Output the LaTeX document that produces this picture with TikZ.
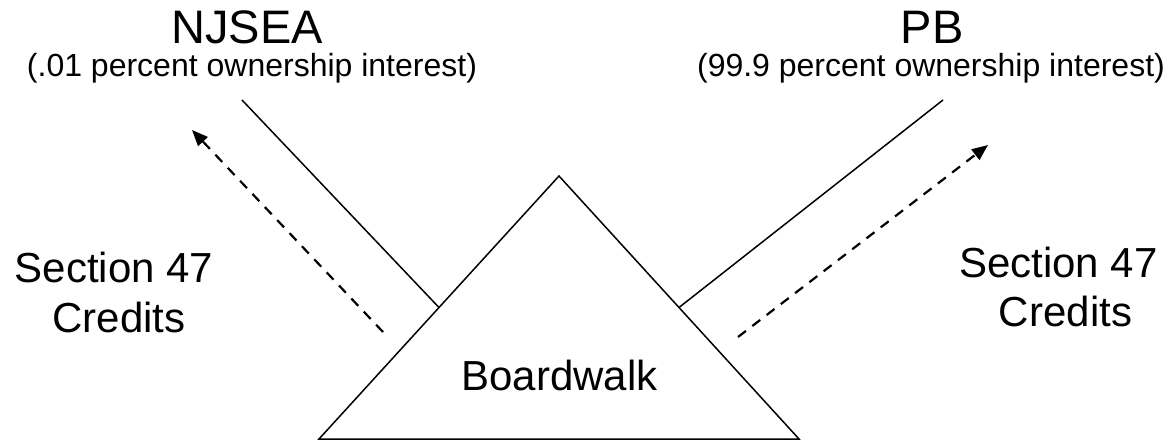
\documentclass[tikz,border=0pt]{standalone}
\usepackage{fontspec}
\setmainfont{Liberation Sans}
\usetikzlibrary{arrows.meta,calc}

\tikzset{
  party/.style={inner sep=0pt, anchor=base, font=\fontsize{47}{56}\selectfont},
  share/.style={inner sep=0pt, anchor=base, font=\fontsize{32}{38}\selectfont},
  label/.style={inner sep=0pt, anchor=base, font=\fontsize{42}{50}\selectfont},
  owner/.style={line width=1.5pt},
  credit/.style={line width=2.2pt, dash pattern=on 10pt off 8pt,
    -{Triangle[length=16pt,width=13pt]}},
  entity/.style={line width=1.5pt, line join=miter}
}

\begin{document}
\begin{tikzpicture}[x=1pt, y=-1pt]
  \useasboundingbox (0,0) rectangle (1168,441);

  % owners and their shares
  \node[party] (njsea) at (247,44) {NJSEA};
  \node[share] (njseashare) at (252,77) {(.01 percent ownership interest)};
  \node[party] (pb) at (932,44) {PB};
  \node[share] (pbshare) at (931,77) {(99.9 percent ownership interest)};

  % the partnership
  \coordinate (apex) at (559,176);
  \coordinate (baseL) at (319,439);
  \coordinate (baseR) at (799,439);
  \draw[entity] (baseL) -- (apex) -- (baseR) -- cycle;
  \node[label] (boardwalk) at (559.5,390) {Boardwalk};

  % ownership lines
  \coordinate (njseafoot) at (242,100);
  \coordinate (pbfoot) at (943,100);
  \coordinate (leftjoin) at ($(baseL)!0.5!(apex)$);
  \coordinate (rightjoin) at ($(baseR)!0.5!(apex)$);
  \draw[owner] (njseafoot) -- (leftjoin);
  \draw[owner] (pbfoot) -- (rightjoin);

  % flow of credits
  \coordinate (lcreditfrom) at (383,332);
  \coordinate (lcreditto) at (192,130);
  \coordinate (rcreditfrom) at (738,337);
  \coordinate (rcreditto) at (988,145);
  \draw[credit] (lcreditfrom) -- (lcreditto);
  \draw[credit] (rcreditfrom) -- (rcreditto);

  \node[label] (lsec) at (114,282) {Section 47};
  \node[label] (lcred) at (119,332) {Credits};
  \node[label] (rsec) at (1058.5,277) {Section 47};
  \node[label] (rcred) at (1065.5,326) {Credits};
\end{tikzpicture}
\end{document}
